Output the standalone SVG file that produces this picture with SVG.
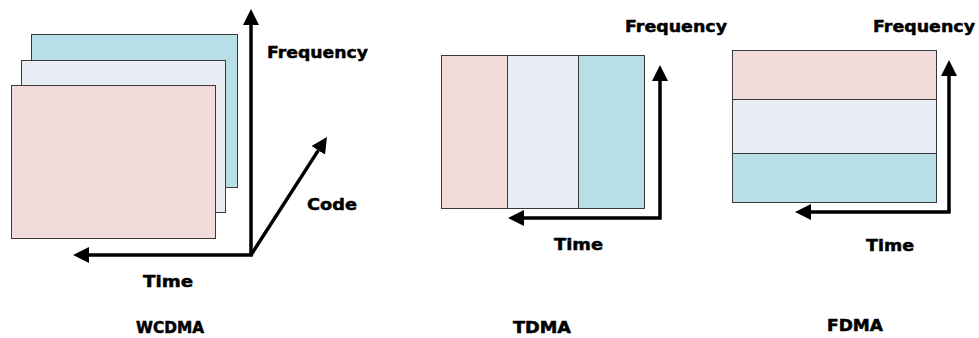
<svg xmlns="http://www.w3.org/2000/svg" width="979" height="338" viewBox="0 0 979 338">
  <style>
    .pink { fill: #F2DCDB; stroke: #3a3a3a; stroke-width: 1; }
    .pale { fill: #E8EDF5; stroke: #3a3a3a; stroke-width: 1; }
    .blue { fill: #B8DEE8; stroke: #3a3a3a; stroke-width: 1; }
    .axis { fill: none; stroke: #000; stroke-width: 3.5; stroke-linejoin: miter; marker-end: url(#head); }
    .axis2 { marker-start: url(#head); }
    .lbl { font-family: "DejaVu Sans", Verdana, sans-serif; font-weight: bold; font-size: 16.5px; fill: #000; stroke: #000; stroke-width: 0.5; }
    .title { font-family: "DejaVu Sans", Verdana, sans-serif; font-weight: bold; font-size: 15px; fill: #000; stroke: #000; stroke-width: 0.5; }
  </style>
  <defs>
    <marker id="head" markerUnits="userSpaceOnUse" markerWidth="18" markerHeight="18" viewBox="0 -9 18 18" refX="0" refY="0" orient="auto-start-reverse">
      <path d="M0,-8 L16,0 L0,8 Z" fill="#000"/>
    </marker>
  </defs>

  <rect width="979" height="338" fill="#fff"/>

  <!-- WCDMA: stacked code layers -->
  <g id="wcdma-code3"><rect class="blue" x="31.5" y="34.5" width="206" height="153"/></g>
  <g id="wcdma-code2"><rect class="pale" x="21.5" y="60.5" width="204" height="152"/></g>
  <g id="wcdma-code1"><rect class="pink" x="11.5" y="85.5" width="204" height="153"/></g>

  <!-- TDMA: time slots -->
  <g id="tdma-slot1"><rect class="pink" x="441.5" y="55.5" width="66" height="153"/></g>
  <g id="tdma-slot2"><rect class="pale" x="507.5" y="55.5" width="71" height="153"/></g>
  <g id="tdma-slot3"><rect class="blue" x="578.5" y="55.5" width="66" height="153"/></g>

  <!-- FDMA: frequency bands -->
  <g id="fdma-band1"><rect class="pink" x="732.5" y="50.5" width="204" height="49"/></g>
  <g id="fdma-band2"><rect class="pale" x="732.5" y="99.5" width="204" height="54"/></g>
  <g id="fdma-band3"><rect class="blue" x="732.5" y="153.5" width="204" height="49"/></g>

  <!-- axes -->
  <g id="connectors">
    <path class="axis axis2" d="M251,25 L251,255 L89,255"/>
    <path class="axis" d="M251,255 L318.3,150.4"/>
    <path class="axis axis2" d="M660,81 L660,218 L524,218"/>
    <path class="axis axis2" d="M949,76 L949,212 L811,212"/>
  </g>

  <!-- axis labels -->
  <g id="labels">
    <text class="lbl" x="267" y="58" textLength="101" lengthAdjust="spacingAndGlyphs">Frequency</text>
    <text class="lbl" x="307" y="210" textLength="50" lengthAdjust="spacingAndGlyphs">Code</text>
    <text class="lbl" x="143" y="287" textLength="50" lengthAdjust="spacingAndGlyphs">Time</text>
    <text class="lbl" x="625" y="32" textLength="102" lengthAdjust="spacingAndGlyphs">Frequency</text>
    <text class="lbl" x="554" y="250" textLength="49" lengthAdjust="spacingAndGlyphs">Time</text>
    <text class="lbl" x="873" y="32" textLength="102" lengthAdjust="spacingAndGlyphs">Frequency</text>
    <text class="lbl" x="866" y="251" textLength="48" lengthAdjust="spacingAndGlyphs">Time</text>
  </g>

  <!-- scheme titles -->
  <g id="titles">
    <text class="title" x="136" y="333" textLength="68" lengthAdjust="spacingAndGlyphs">WCDMA</text>
    <text class="title" x="513" y="333" textLength="58" lengthAdjust="spacingAndGlyphs">TDMA</text>
    <text class="title" x="827" y="331" textLength="56" lengthAdjust="spacingAndGlyphs">FDMA</text>
  </g>
</svg>
